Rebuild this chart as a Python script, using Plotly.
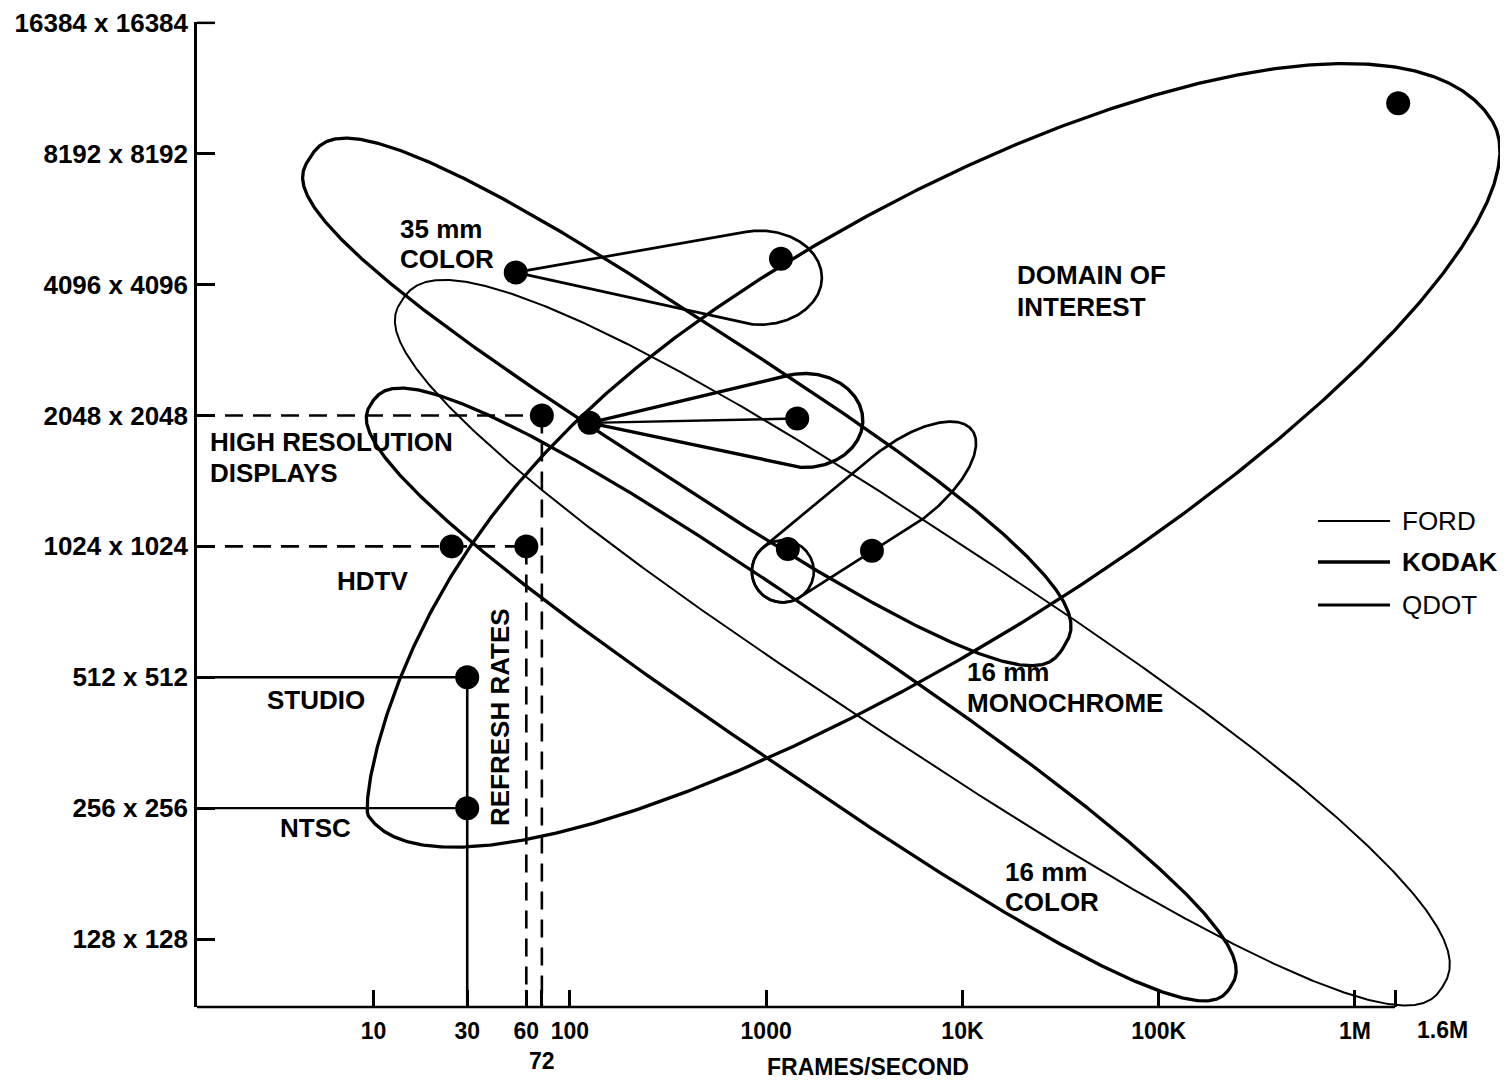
import numpy as np
import plotly.graph_objects as go

# ---------------- page / plot geometry ----------------
# (page coordinates; the html body adds an 8px margin around the figure)
BODY = 8
PAGE_W, PAGE_H = 1508, 1091
PLOT_L, PLOT_R, PLOT_T, PLOT_B = 197, 1500, 22, 1007
FW, FH = PAGE_W - 2 * BODY, PAGE_H - 2 * BODY
ML, MT = PLOT_L - BODY, PLOT_T - BODY
MR, MB = FW - (PLOT_R - BODY), FH - (PLOT_B - BODY)
PW, PH = PLOT_R - PLOT_L, PLOT_B - PLOT_T
FONT = "Liberation Sans, Arial, sans-serif"

# ---------------- data ----------------
fps_ticks = [10, 30, 60, 72, 100, 1000, 10000, 100000, 1000000, 1600000]
fps_tick_text = ["10", "30", "60", "<br>72", "100", "1000", "10K", "100K", "1M", ""]
res_ticks = [128, 256, 512, 1024, 2048, 4096, 8192, 16384]
res_tick_text = ["128 x 128", "256 x 256", "512 x 512", "1024 x 1024",
                 "2048 x 2048", "4096 x 4096", "8192 x 8192", "16384 x 16384"]

fps_min, fps_max = 1.26, 5.48e6          # axis extent (frames/second)
res_min, res_max = 89.3, 16384            # axis extent (pixels per side)
fps_axis_end = 1.6e6                      # end of drawn frames/second axis

# reference standards: HDTV, HDTV refresh, high-res displays, studio, NTSC
std_names = ["HDTV", "HDTV refresh", "High resolution displays", "Studio", "NTSC"]
std_fps = [25, 60, 72, 30, 30]
std_res = [1024, 1024, 2048, 512, 256]

# camera operating points
cam_names = ["35 mm color", "35 mm color (fast)", "2048 slow", "2048 fast",
             "1024 A", "1024 B", "Domain max"]
cam_fps = [53, 1190, 126, 1440, 1290, 3460, 1660000]
cam_res = [4370, 4700, 1970, 2015, 1010, 1000, 10700]

# capability domains: end points (fps, res) of each envelope
dom_names = ["Domain of interest", "16 mm monochrome", "16 mm color", "Ford envelope"]
dom_p1 = [(9.35, 247), (4.73, 8017), (9.8, 2193), (13.9, 3764)]
dom_p2 = [(4.99e6, 9756), (32.5e3, 597), (230.7e3, 98.8), (2.77e6, 98.8)]

# ---------------- scales (px per decade / octave) ----------------
xr0, xr1 = np.log10(fps_min), np.log10(fps_max)
yr0, yr1 = np.log10(res_min), np.log10(res_max) + 0.002
KX = PW / (xr1 - xr0)
KY = PH / (yr1 - yr0) * np.log10(2)


def uv(f, r):
    return np.log10(f) * KX, np.log2(r) * KY


def from_uv(U, V):
    return 10 ** (np.asarray(U) / KX), 2 ** (np.asarray(V) / KY)


def outline(p1, p2, b_up, b_lo, n=2.0, shear=0.0, taper=0.0, N=900):
    u1, v1 = uv(*p1)
    u2, v2 = uv(*p2)
    cu, cv = (u1 + u2) / 2, (v1 + v2) / 2
    a = np.hypot(u2 - u1, v2 - v1) / 2
    eu, ev = (u2 - u1) / (2 * a), (v2 - v1) / (2 * a)
    nu, nv = -ev, eu
    th = np.linspace(0, 2 * np.pi, N)
    c, s = np.cos(th), np.sin(th)
    k = 2.0 / n
    sa = a * np.sign(c) * np.abs(c) ** k + np.where(s > 0, shear * s ** 2, 0.0)
    q = k * (1 + np.where(s > 0, taper * np.clip(-c, 0, None), 0.0))
    st = np.where(s >= 0, b_up, b_lo) * np.sign(s) * np.abs(s) ** q
    return from_uv(cu + sa * eu + st * nu, cv + sa * ev + st * nv)


def ellipse_uv(center, a, b, ang=0.0, N=360):
    cu, cv = uv(*center)
    t = np.linspace(0, 2 * np.pi, N, endpoint=False)
    A = np.radians(ang)
    x, y = a * np.cos(t), b * np.sin(t)
    return np.column_stack([cu + x * np.cos(A) - y * np.sin(A),
                            cv + x * np.sin(A) + y * np.cos(A)])


def hull(P):
    pts = sorted(map(tuple, np.round(P, 6)))

    def cross(o, a, b):
        return (a[0] - o[0]) * (b[1] - o[1]) - (a[1] - o[1]) * (b[0] - o[0])
    lo, up = [], []
    for p in pts:
        while len(lo) >= 2 and cross(lo[-2], lo[-1], p) <= 0:
            lo.pop()
        lo.append(p)
    for p in reversed(pts):
        while len(up) >= 2 and cross(up[-2], up[-1], p) <= 0:
            up.pop()
        up.append(p)
    h = lo[:-1] + up[:-1]
    h.append(h[0])
    return np.array(h)


fig = go.Figure()
BLK = "black"


def add_line(x, y, w, dash=None):
    fig.add_trace(go.Scatter(x=x, y=y, mode="lines", hoverinfo="skip",
                             line=dict(color=BLK, width=w, dash=dash), showlegend=False))


# envelope shape styles (widths / shape factors)
dom_style = [dict(b_up=250, b_lo=180, n=2.0, shear=-20, taper=0.6, w=3.3),
             dict(b_up=78, b_lo=72, n=2.8, shear=0, taper=0, w=3.3),
             dict(b_up=76, b_lo=71, n=2.6, shear=0, taper=0, w=3.3),
             dict(b_up=105, b_lo=95, n=2.5, shear=0, taper=0, w=2.0)]
for p1, p2, st in zip(dom_p1, dom_p2, dom_style):
    x, y = outline(p1, p2, st["b_up"], st["b_lo"], st["n"], st["shear"], st["taper"])
    add_line(x, y, st["w"])

# teardrop envelopes around operating points (apex = slow point)
tear_centers = [(929, 4249), (1574, 1995)]
tear_apex = [(cam_fps[0], cam_res[0]), (cam_fps[2], cam_res[2])]
tear_size = [(62, 47, 2.7), (58, 47, 3.4)]
for cen, apex, (rx, ry, w) in zip(tear_centers, tear_apex, tear_size):
    P = np.vstack([ellipse_uv(cen, rx, ry), np.array([uv(*apex)])])
    h = hull(P)
    x, y = from_uv(h[:, 0], h[:, 1])
    add_line(x, y, w)

# link between 2048 points
add_line([cam_fps[2], cam_fps[3]], [cam_res[2], cam_res[3]], 2.4)

# 1024 group: circle + envelope toward faster point
circ = ellipse_uv((1216, 897), 31, 31)
cc = np.vstack([circ, circ[:1]])
x, y = from_uv(cc[:, 0], cc[:, 1])
add_line(x, y, 2.7)
h = hull(np.vstack([circ, ellipse_uv((4864, 1415), 90, 40, 38)]))
x, y = from_uv(h[:, 0], h[:, 1])
add_line(x, y, 2.7)

# reference standard lines
DASH = "18px,10px"
add_line([fps_min, std_fps[1]], [std_res[1], std_res[1]], 2.6, DASH)
add_line([fps_min, std_fps[2]], [std_res[2], std_res[2]], 2.6, DASH)
add_line([fps_min, std_fps[3]], [std_res[3], std_res[3]], 2.3)
add_line([fps_min, std_fps[4]], [std_res[4], std_res[4]], 2.3)
add_line([std_fps[3], std_fps[3]], [std_res[3], res_min], 2.6)
add_line([std_fps[1], std_fps[1]], [std_res[1], res_min], 2.6, DASH)
add_line([std_fps[2], std_fps[2]], [std_res[2], res_min], 2.6, DASH)

# dots
fig.add_trace(go.Scatter(x=std_fps + cam_fps, y=std_res + cam_res, mode="markers",
                         marker=dict(color=BLK, size=24), text=std_names + cam_names,
                         hoverinfo="text", showlegend=False))


def P(px, py):
    return (px - PLOT_L) / PW, (PLOT_B - py) / PH


annotations = []


def ann(text, px, py, size=26, weight="bold", xanchor="left", angle=0):
    x, y = P(px, py)
    annotations.append(dict(text=text, x=x, y=y, xref="paper", yref="paper",
                            xanchor=xanchor, yanchor="middle", showarrow=False,
                            textangle=angle,
                            font=dict(family=FONT, size=size, color=BLK, weight=weight)))


ann("35 mm", 398, 229)
ann("COLOR", 398, 259)
ann("DOMAIN OF", 1015, 275)
ann("INTEREST", 1015, 307)
ann("HIGH RESOLUTION", 208, 442)
ann("DISPLAYS", 208, 473)
ann("HDTV", 335, 581)
ann("STUDIO", 265, 700)
ann("NTSC", 278, 828)
ann("16 mm", 965, 672)
ann("MONOCHROME", 965, 703)
ann("16 mm", 1003, 872)
ann("COLOR", 1003, 902)
ann("REFRESH RATES", 500, 717, xanchor="center", angle=-90)
ann("FRAMES/SECOND", 868, 1067, size=23, xanchor="center")
ann("FORD", 1400, 521, weight="normal")
ann("KODAK", 1400, 562)
ann("QDOT", 1400, 605, weight="normal")

# label for the last frame-rate tick
annotations.append(dict(text="1.6M", x=np.log10(fps_axis_end), y=0, xref="x", yref="paper",
                        xanchor="left", yanchor="middle", yshift=-23, xshift=20,
                        showarrow=False, font=dict(family=FONT, size=23, color=BLK, weight="bold")))

shapes = []
# frame-rate axis line
shapes.append(dict(type="line", xref="paper", yref="paper", x0=0,
                   x1=(np.log10(fps_axis_end) - xr0) / (xr1 - xr0), y0=0, y1=0,
                   line=dict(color=BLK, width=2.5)))
# top tick of the resolution axis (paper-referenced so it is not clipped)
y_top = (np.log10(res_ticks[-1]) - yr0) / (yr1 - yr0)
shapes.append(dict(type="line", xref="paper", yref="paper", x0=0, x1=18 / PW,
                   y0=y_top, y1=y_top, line=dict(color=BLK, width=2.5)))
# legend samples
for py, w in [(521, 2.0), (562, 3.6), (605, 2.8)]:
    x0, y0 = P(1318, py)
    x1, _ = P(1390, py)
    shapes.append(dict(type="line", xref="paper", yref="paper", x0=x0, x1=x1, y0=y0, y1=y0,
                       line=dict(color=BLK, width=w)))

fig.update_layout(
    width=FW, height=FH, margin=dict(l=ML, r=MR, t=MT, b=MB, autoexpand=False),
    paper_bgcolor="white", plot_bgcolor="white",
    showlegend=False, annotations=annotations, shapes=shapes,
    xaxis=dict(type="log", range=[xr0, xr1], tickvals=fps_ticks, ticktext=fps_tick_text,
               tickangle=0, ticks="inside", ticklen=17, tickwidth=2.5, tickcolor=BLK,
               showline=False, showgrid=False, zeroline=False, ticklabelstandoff=8,
               ticklabeloverflow="allow",
               tickfont=dict(family=FONT, size=23, color=BLK, weight="bold")),
    yaxis=dict(type="log", range=[yr0, yr1], tickvals=res_ticks, ticktext=res_tick_text,
               ticks="inside", ticklen=18, tickwidth=2.5, tickcolor=BLK,
               showline=True, linewidth=2.5, linecolor=BLK, mirror=False,
               showgrid=False, zeroline=False, ticklabelstandoff=1,
               ticklabeloverflow="allow",
               tickfont=dict(family=FONT, size=26, color=BLK, weight="bold")),
)

fig.write_html("out.html")
